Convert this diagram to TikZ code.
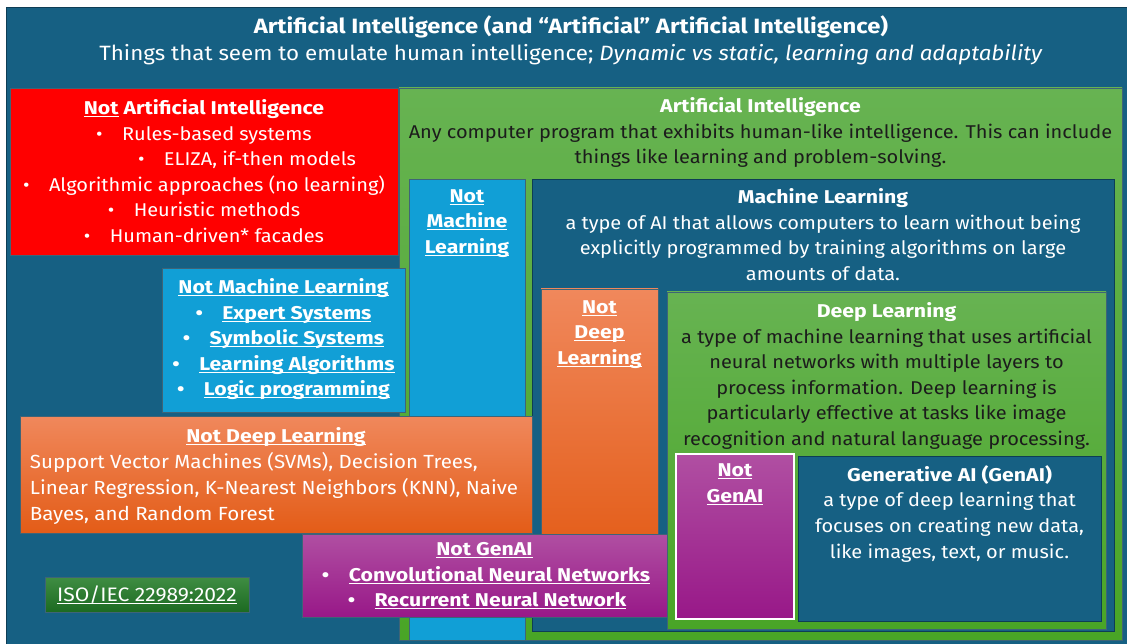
\documentclass[tikz,border=0pt]{standalone}
\usepackage{fontspec}
\setmainfont{Fira Sans}[
  UprightFeatures={FakeStretch=1.08},
  ItalicFeatures={FakeStretch=1.08},
  BoldFeatures={FakeStretch=1.15}]
\usetikzlibrary{positioning,fit,shadows}

\definecolor{navy}{HTML}{166083}
\definecolor{navydark}{HTML}{0E3D55}
\definecolor{aired}{HTML}{FF0000}
\definecolor{greentop}{HTML}{67B352}
\definecolor{greenbot}{HTML}{49A526}
\definecolor{mlcyan}{HTML}{119FD6}
\definecolor{orangetop}{HTML}{F0885C}
\definecolor{orangebot}{HTML}{E35C17}
\definecolor{purpletop}{HTML}{B04FA2}
\definecolor{purplebot}{HTML}{981888}
\definecolor{isotop}{HTML}{3F8D43}
\definecolor{isobot}{HTML}{1C6A21}
\definecolor{inktext}{HTML}{1C1C1C}

\newcommand{\bodyfont}{\fontsize{18.5}{25.6}\selectfont}
\newcommand{\headfont}{\fontsize{20.7}{26}\selectfont}
\newsavebox{\ulbox}
\newcommand{\undl}[1]{\sbox{\ulbox}{#1}\rlap{\rule[-2.6pt]{\wd\ulbox}{1.1pt}}\usebox{\ulbox}}
\newcommand{\ulb}[1]{\textbf{\undl{#1}}}
\newcommand{\bul}{\textbullet\hspace{1.05em}}
\newcommand{\ink}[1]{\textcolor{inktext}{#1}}

\tikzset{
  panel/.style={rectangle, inner sep=0pt, line width=0.6pt, draw=navydark!80,
    drop shadow={shadow xshift=1.2pt, shadow yshift=-1.2pt, opacity=0.35}},
  redpanel/.style={panel, fill=aired},
  greenpanel/.style={panel, top color=greentop, bottom color=greenbot},
  cyanpanel/.style={panel, fill=mlcyan},
  navypanel/.style={panel, fill=navy, draw=navydark},
  orangepanel/.style={panel, top color=orangetop, bottom color=orangebot},
  purplepanel/.style={panel, top color=purpletop, bottom color=purplebot},
  isopanel/.style={panel, top color=isotop, bottom color=isobot},
  boxtext/.style={inner sep=0pt, align=center, text=white, font=\bodyfont},
}

\begin{document}
\begin{tikzpicture}[x=1pt,y=-1pt]
  \useasboundingbox (0,0) rectangle (1127,644);
  \fill[white] (0,0) rectangle (1127,644);
  \node[fit={(6.5,7) (1127,644)}, inner sep=0pt, fill=navy, draw=navydark, line width=0.8pt] (frame) {};

  % heading
  \node[anchor=base, text=white, font=\headfont\bfseries] (title) at (571,34)
    {Artificial Intelligence (and “Artificial” Artificial Intelligence)};
  \node[anchor=base, text=white, font=\headfont] (subtitle) at (571,61)
    {Things that seem to emulate human intelligence; \textit{Dynamic vs static, learning and adaptability}};

  % not AI
  \node[redpanel, fit={(10,88) (398,255)}] (notai) {};
  \node[boxtext, below=11.5pt of notai.north] (notaitext) {\textbf{\undl{Not} Artificial Intelligence}\\
    \bul Rules-based systems\\
    \hspace*{86pt}\bul ELIZA, if-then models\\
    \bul Algorithmic approaches (no learning)\\
    \bul Heuristic methods\\
    \bul Human-driven* facades};

  % AI
  \node[greenpanel, fit={(399,88) (1122,640)}] (ai) {};
  \node[boxtext, below=9.5pt of ai.north] (aitext) {\textbf{Artificial Intelligence}\\
    \ink{Any computer program that exhibits human-like intelligence. This can include}\\
    \ink{things like learning and problem-solving.}};

  \node[cyanpanel, fit={(409,179) (525,640)}] (notmltall) {};
  \node[boxtext, below=10.5pt of notmltall.north] (notmltalltext) {\ulb{Not}\\ \ulb{Machine}\\ \ulb{Learning}};

  % machine learning
  \node[navypanel, fit={(532,179) (1114,631)}] (ml) {};
  \node[boxtext, below=9.5pt of ml.north] (mltext) {\textbf{Machine Learning}\\
    a type of AI that allows computers to learn without being\\
    explicitly programmed by training algorithms on large\\
    amounts of data.};

  \node[orangepanel, fit={(541,289) (658,560)}] (notdltall) {};
  \node[boxtext, below=11.5pt of notdltall.north] (notdltalltext) {\ulb{Not}\\ \ulb{Deep}\\ \ulb{Learning}};

  % deep learning
  \node[greenpanel, fit={(667,292) (1106,629)}] (dl) {};
  \node[boxtext, below=10.5pt of dl.north] (dltext) {\textbf{Deep Learning}\\
    \ink{a type of machine learning that uses artificial}\\
    \ink{neural networks with multiple layers to}\\
    \ink{process information. Deep learning is}\\
    \ink{particularly effective at tasks like image}\\
    \ink{recognition and natural language processing.}};

  \node[purplepanel, draw=white, line width=1.6pt, fit={(676,454) (794,619)}] (notgentall) {};
  \node[boxtext, below=10.5pt of notgentall.north] (notgentalltext) {\ulb{Not}\\ \ulb{GenAI}};

  % generative AI
  \node[navypanel, fit={(798,456) (1101,621)}] (genai) {};
  \node[boxtext, below=9.5pt of genai.north] (genaitext) {\textbf{Generative AI (GenAI)}\\
    a type of deep learning that\\
    focuses on creating new data,\\
    like images, text, or music.};

  % the "not" boxes on the left
  \node[cyanpanel, fit={(162,268) (405,412)}] (notmlwide) {};
  \node[boxtext, below=10.5pt of notmlwide.north] (notmlwidetext) {\ulb{Not Machine Learning}\\
    \textbf{\bul}\ulb{Expert Systems}\\
    \textbf{\bul}\ulb{Symbolic Systems}\\
    \textbf{\bul}\ulb{Learning Algorithms}\\
    \textbf{\bul}\ulb{Logic programming}};

  \node[orangepanel, fit={(20,416) (532,533)}] (notdlwide) {};
  \node[boxtext, below=11.5pt of notdlwide.north] (notdlwidetext) {\ulb{Not Deep Learning}};
  \node[boxtext, align=left, font=\fontsize{19}{25.6}\selectfont,
    below right=37pt and 10pt of notdlwide.north west] (notdlwidebody)
    {Support Vector Machines (SVMs), Decision Trees,\\
    Linear Regression, K-Nearest Neighbors (KNN), Naive\\
    Bayes, and Random Forest};

  \node[purplepanel, fit={(302,534) (667,617)}] (notgenwide) {};
  \node[boxtext, below=8.5pt of notgenwide.north] (notgenwidetext) {\ulb{Not GenAI}\\
    \hspace*{3pt}\textbf{\bul}\ulb{Convolutional Neural Networks}\\
    \hspace*{5pt}\textbf{\bul}\ulb{Recurrent Neural Network}};

  \node[isopanel, fit={(45,577) (249,612)}] (iso) {};
  \node[boxtext, anchor=base, font=\fontsize{19.5}{24}\selectfont] (isotext) at ([yshift=-6.5pt]iso.center) {\undl{ISO/IEC 22989:2022}};
\end{tikzpicture}
\end{document}
